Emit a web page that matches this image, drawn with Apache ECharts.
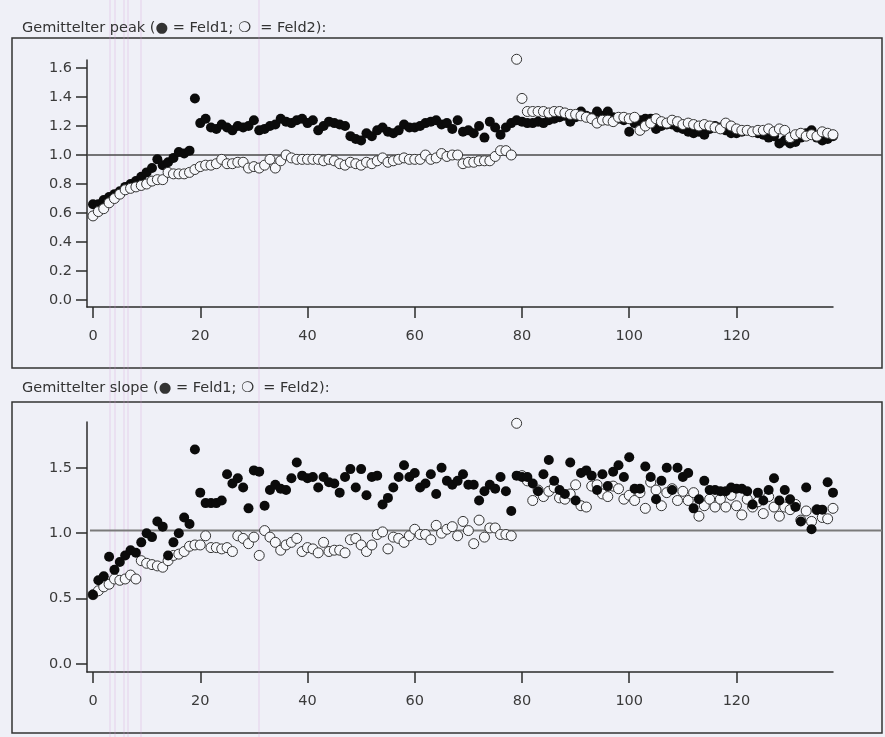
<!DOCTYPE html>
<html><head><meta charset="utf-8">
<script src="https://cdn.jsdelivr.net/npm/echarts@6/dist/echarts.min.js"></script>
<style>html,body{margin:0;padding:0;background:#f1f2f8}#c{width:885px;height:737px}</style>
</head><body><div id="c"></div>
<script>
// ---- data (index 0..138) ----
const peakFeld1 = [0.66,0.66,0.69,0.71,0.73,0.75,0.78,0.80,0.82,0.85,0.88,0.91,0.97,0.93,0.95,0.98,1.02,1.01,1.03,1.39,
1.22,1.25,1.19,1.18,1.21,1.19,1.17,1.20,1.19,1.20,1.24,1.17,1.18,1.20,1.21,1.25,1.23,1.22,1.24,1.25,
1.22,1.24,1.17,1.20,1.23,1.22,1.21,1.20,1.13,1.11,1.10,1.15,1.13,1.17,1.19,1.16,1.15,1.17,1.21,1.19,
1.19,1.20,1.22,1.23,1.24,1.21,1.22,1.18,1.24,1.16,1.17,1.15,1.20,1.12,1.23,1.19,1.14,1.19,1.22,1.24,
1.23,1.22,1.22,1.23,1.22,1.24,1.25,1.26,1.27,1.23,1.26,1.30,1.27,1.26,1.30,1.27,1.30,1.26,1.25,1.24,
1.16,1.22,1.24,1.25,1.25,1.18,1.20,1.21,1.21,1.19,1.18,1.16,1.15,1.16,1.14,1.18,1.20,1.19,1.17,1.15,
1.15,1.16,1.17,1.16,1.15,1.14,1.12,1.13,1.08,1.10,1.08,1.09,1.12,1.15,1.17,1.12,1.10,1.11,1.13];
const peakFeld2 = [0.58,0.61,0.63,0.67,0.70,0.73,0.76,0.77,0.78,0.79,0.80,0.82,0.83,0.83,0.88,0.87,0.87,0.87,0.88,0.90,
0.92,0.93,0.93,0.94,0.97,0.94,0.94,0.95,0.95,0.91,0.92,0.91,0.93,0.97,0.91,0.96,1.00,0.98,0.97,0.97,
0.97,0.97,0.97,0.96,0.97,0.96,0.94,0.93,0.95,0.94,0.93,0.95,0.94,0.96,0.98,0.95,0.96,0.97,0.98,0.97,
0.97,0.97,1.00,0.97,0.98,1.01,0.99,1.00,1.00,0.94,0.95,0.95,0.96,0.96,0.96,0.99,1.03,1.03,1.00,1.66,
1.39,1.30,1.30,1.30,1.30,1.29,1.30,1.30,1.29,1.28,1.28,1.27,1.26,1.25,1.22,1.24,1.24,1.23,1.26,1.26,
1.25,1.26,1.17,1.20,1.22,1.25,1.23,1.22,1.24,1.23,1.21,1.22,1.21,1.20,1.21,1.20,1.19,1.18,1.22,1.20,
1.18,1.17,1.17,1.16,1.17,1.17,1.18,1.16,1.18,1.17,1.12,1.14,1.15,1.13,1.14,1.13,1.16,1.15,1.14];
const slopeFeld1 = [0.53,0.64,0.67,0.82,0.72,0.78,0.83,0.87,0.85,0.93,1.00,0.97,1.09,1.05,0.83,0.93,1.00,1.12,1.07,1.64,
1.31,1.23,1.23,1.23,1.25,1.45,1.38,1.42,1.35,1.19,1.48,1.47,1.21,1.33,1.37,1.34,1.33,1.42,1.54,1.44,
1.42,1.43,1.35,1.43,1.39,1.38,1.31,1.43,1.49,1.35,1.49,1.29,1.43,1.44,1.22,1.27,1.35,1.43,1.52,1.43,
1.46,1.35,1.38,1.45,1.30,1.50,1.40,1.37,1.40,1.45,1.37,1.37,1.25,1.32,1.37,1.34,1.43,1.32,1.17,1.44,
1.43,1.43,1.38,1.32,1.45,1.56,1.40,1.33,1.30,1.54,1.25,1.46,1.48,1.44,1.33,1.45,1.36,1.47,1.52,1.43,
1.58,1.34,1.34,1.51,1.43,1.26,1.40,1.50,1.33,1.50,1.43,1.46,1.19,1.26,1.40,1.33,1.33,1.32,1.32,1.35,
1.34,1.34,1.32,1.22,1.31,1.25,1.33,1.42,1.25,1.33,1.26,1.20,1.09,1.35,1.03,1.18,1.18,1.39,1.31];
const slopeFeld2 = [0.53,0.56,0.59,0.61,0.65,0.64,0.65,0.68,0.65,0.79,0.77,0.76,0.75,0.74,0.79,0.83,0.84,0.86,0.90,0.91,
0.91,0.98,0.89,0.89,0.88,0.89,0.86,0.98,0.96,0.92,0.97,0.83,1.02,0.97,0.93,0.87,0.91,0.93,0.96,0.86,
0.89,0.88,0.85,0.93,0.86,0.87,0.87,0.85,0.95,0.96,0.91,0.86,0.91,0.99,1.01,0.88,0.97,0.96,0.93,0.98,
1.03,0.99,0.99,0.95,1.06,1.00,1.03,1.05,0.98,1.09,1.02,0.92,1.10,0.97,1.04,1.04,0.99,0.99,0.98,1.84,
1.44,1.40,1.25,1.33,1.28,1.32,1.35,1.27,1.26,1.30,1.37,1.21,1.20,1.36,1.37,1.30,1.28,1.36,1.34,1.26,
1.29,1.25,1.31,1.19,1.39,1.33,1.21,1.31,1.34,1.25,1.32,1.25,1.31,1.13,1.21,1.26,1.20,1.26,1.20,1.29,
1.21,1.14,1.26,1.20,1.24,1.15,1.28,1.20,1.13,1.20,1.18,1.22,1.10,1.17,1.09,1.18,1.12,1.11,1.19];
const xTicks = [0,20,40,60,80,100,120];
const peakYTicks = [0,0.2,0.4,0.6,0.8,1.0,1.2,1.4,1.6];
const slopeYTicks = [0,0.5,1.0,1.5];
const peakRef = 1.0;
const slopeRef = 1.02;
const titles = ['Gemittelter peak (\u25CF = Feld1; \u274D  = Feld2):', 'Gemittelter slope (\u25CF = Feld1; \u274D  = Feld2):'];

// ---- chart ----
const FONT = '"DejaVu Sans", "Liberation Sans", sans-serif';
const INK = '#2b2b2b';
const toPts = arr => arr.map((v, i) => [i, v]);

function xAxisCfg(g) {
  return {
    type: 'value', gridIndex: g, min: -1.12, max: 138,
    axisLine: {show: true, onZero: false, lineStyle: {color: INK, width: 1.5}},
    axisTick: {show: true, length: 11, customValues: xTicks, lineStyle: {color: INK, width: 1.5}},
    axisLabel: {customValues: xTicks, margin: 22, fontSize: 14.5, color: '#3a3a3a', fontFamily: FONT},
    splitLine: {show: false}
  };
}
function yAxisCfg(g, min, max, ticks) {
  return {
    type: 'value', gridIndex: g, min: min, max: max,
    axisLine: {show: true, onZero: false, lineStyle: {color: INK, width: 1.5}},
    axisTick: {show: true, length: 11, customValues: ticks, lineStyle: {color: INK, width: 1.5}},
    axisLabel: {customValues: ticks, margin: 15, fontSize: 14.5, color: '#3a3a3a', fontFamily: FONT,
      formatter: v => Number(v).toFixed(1)},
    splitLine: {show: false}
  };
}
const filled = {color: '#0b0b0b', opacity: 1};
const open = {color: '#f6f7fb', borderColor: '#333', borderWidth: 1, opacity: 1};

const chart = echarts.init(document.getElementById('c'), null, {renderer: 'canvas'});
chart.setOption({
  backgroundColor: '#eff0f7',
  animation: false,
  title: titles.map((t, k) => ({
    text: t, left: 17, top: k === 0 ? 16 : 376,
    textStyle: {fontSize: 14.5, fontWeight: 'normal', color: '#333', fontFamily: FONT}
  })),
  grid: [
    {left: 87, right: 52, top: 60, height: 247},
    {left: 87, right: 52, top: 422, height: 250}
  ],
  xAxis: [xAxisCfg(0), xAxisCfg(1)],
  yAxis: [yAxisCfg(0, -0.048, 1.655, peakYTicks), yAxisCfg(1, -0.061, 1.85, slopeYTicks)],
  series: [
    {type: 'scatter', name: 'peak Feld1', xAxisIndex: 0, yAxisIndex: 0, data: toPts(peakFeld1), symbolSize: 10, itemStyle: filled, clip: false, z: 3},
    {type: 'scatter', name: 'peak Feld2', xAxisIndex: 0, yAxisIndex: 0, data: toPts(peakFeld2), symbolSize: 10, itemStyle: open, clip: false, z: 4},
    {type: 'scatter', name: 'slope Feld2', xAxisIndex: 1, yAxisIndex: 1, data: toPts(slopeFeld2), symbolSize: 10, itemStyle: open, clip: false, z: 3},
    {type: 'scatter', name: 'slope Feld1', xAxisIndex: 1, yAxisIndex: 1, data: toPts(slopeFeld1), symbolSize: 10, itemStyle: filled, clip: false, z: 4}
  ]
});

const yPeak = chart.convertToPixel({yAxisIndex: 0}, peakRef);
const ySlope = chart.convertToPixel({yAxisIndex: 1}, slopeRef);
const pink = [110, 115, 124, 128, 141, 259];
const graphics = [
  {type: 'rect', silent: true, z: 1, shape: {x: 12, y: 38, width: 870, height: 330},
    style: {fill: 'none', stroke: '#333', lineWidth: 1.5}},
  {type: 'rect', silent: true, z: 1, shape: {x: 12, y: 402, width: 870, height: 331},
    style: {fill: 'none', stroke: '#333', lineWidth: 1.5}},
  {type: 'line', silent: true, z: 2, shape: {x1: 87, y1: yPeak, x2: 882, y2: yPeak},
    style: {stroke: '#4a4a4a', lineWidth: 1.5}},
  {type: 'line', silent: true, z: 2, shape: {x1: 90, y1: ySlope, x2: 882, y2: ySlope},
    style: {stroke: '#7a7a7a', lineWidth: 2}}
].concat(pink.map(x => ({type: 'line', silent: true, z: 1,
  shape: {x1: x, y1: 0, x2: x, y2: 737}, style: {stroke: 'rgba(215,150,215,0.35)', lineWidth: 1}})));
chart.setOption({graphic: graphics});
</script>
</body></html>
